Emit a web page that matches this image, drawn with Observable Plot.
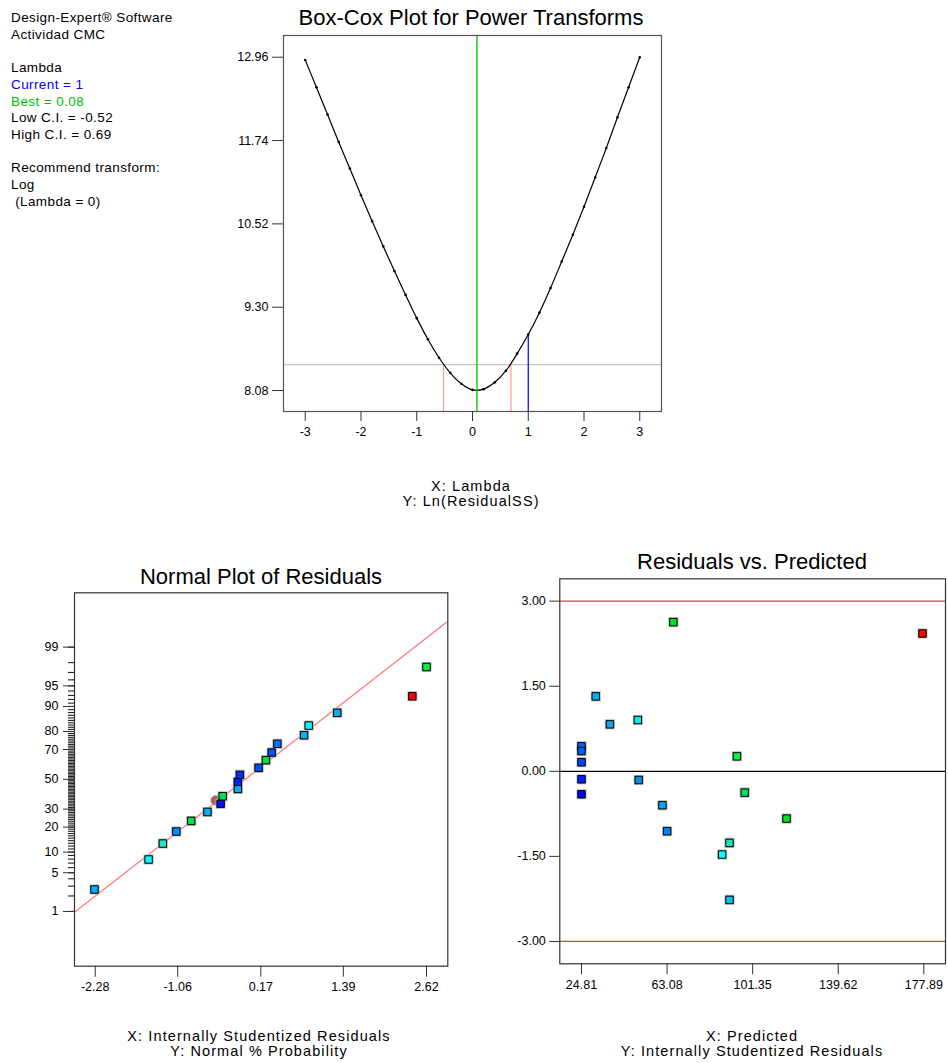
<!DOCTYPE html>
<html><head><meta charset="utf-8">
<script src="https://cdn.jsdelivr.net/npm/d3@7"></script>
<script src="https://cdn.jsdelivr.net/npm/@observablehq/plot@0.6"></script>
<style>
body{margin:0;background:#fff;font-family:"Liberation Sans",Arial,sans-serif;color:#000;}
#root{position:relative;width:948px;height:1063px;overflow:hidden;background:#fff;}
.plot{position:absolute;}
.title{position:absolute;font-size:22px;line-height:22px;white-space:nowrap;transform:translateX(-50%);}
.cap{position:absolute;font-size:14.5px;line-height:15px;text-align:center;white-space:nowrap;transform:translateX(-50%);letter-spacing:1.1px;}
#info{position:absolute;left:11px;top:10px;font-size:13.5px;line-height:16.7px;white-space:pre;letter-spacing:0.4px;}
</style>
</head><body>
<div id="root">
  <div id="info"></div>
  <div class="title" style="left:471px;top:7px">Box-Cox Plot for Power Transforms</div>
  <div class="cap" style="left:471px;top:479px">X: Lambda<br>Y: Ln(ResidualSS)</div>
  <div class="title" style="left:261px;top:566px">Normal Plot of Residuals</div>
  <div class="cap" style="left:259px;top:1029px">X: Internally Studentized Residuals<br>Y: Normal % Probability</div>
  <div class="title" style="left:752px;top:551px">Residuals vs. Predicted</div>
  <div class="cap" style="left:752px;top:1029px">X: Predicted<br>Y: Internally Studentized Residuals</div>
</div>
<script>
// ---------- Header text ----------
const infoLines = [
  ["Design-Expert® Software", "#000"],
  ["Actividad CMC", "#000"],
  ["", "#000"],
  ["Lambda", "#000"],
  ["Current = 1", "#0000ff"],
  ["Best = 0.08", "#00c000"],
  ["Low C.I. = -0.52", "#000"],
  ["High C.I. = 0.69", "#000"],
  ["", "#000"],
  ["Recommend transform:", "#000"],
  ["Log", "#000"],
  [" (Lambda = 0)", "#000"]
];

// ---------- Box-Cox data ----------
const lambdaValues = [-3,-2.8,-2.6,-2.4,-2.2,-2,-1.8,-1.6,-1.4,-1.2,-1,-0.8,-0.6,-0.4,-0.2,0,0.2,0.4,0.6,0.8,1,1.2,1.4,1.6,1.8,2,2.2,2.4,2.6,2.8,3];
const lnResidualSS = [12.92,12.52,12.12,11.72,11.33,10.94,10.56,10.19,9.83,9.48,9.14,8.83,8.56,8.34,8.18,8.09,8.10,8.20,8.37,8.62,8.90,9.22,9.58,9.97,10.36,10.77,11.20,11.63,12.08,12.52,12.96];
const lambdaTicks = [-3,-2,-1,0,1,2,3];
const lnTicks = [8.08,9.30,10.52,11.74,12.96];
const lambdaCurrent = 1;
const lambdaBest = 0.08;
const lambdaCI = [-0.52, 0.69];
const ciLevel = 8.46;
const lnAtCurrent = 8.90;

// ---------- Normal plot data ----------
const normResidual = [-2.29,-1.49,-1.28,-1.08,-0.86,-0.62,-0.425,-0.395,-0.17,-0.17,-0.14,0.137,0.245,0.33,0.414,0.809,0.878,1.30,2.41,2.62];
const normProb = [2.62,7.9,12.9,17.9,23.2,28.3,33.3,38.3,43.3,48.2,53.1,58.0,63.2,68.1,73.4,78.1,82.8,87.9,92.8,97.6];
const normColors = ["#00b0f0","#00ffff","#20e8c0","#0090ff","#00e040","#00b0f0","#0010ff","#00e050","#00b0f0","#0020ff","#0030ff","#0050ff","#00e040","#0050ff","#0070ff","#00b0f0","#00f8f8","#00b0f0","#ff0000","#00f040"];
const circleResidual = [-0.50];
const circleProb = [35.5];
const fitResidual = [-2.586, 2.935];
const fitProb = [0.96, 99.73];
const normXTicks = [-2.28,-1.06,0.17,1.39,2.62];
const probMajor = [1,5,10,20,30,50,70,80,90,95,99];
const probMinor = d3.range(1,100);

// ---------- Residuals vs predicted data ----------
const predicted = [24.81,24.81,24.81,24.81,24.81,31.2,37.5,50.0,50.4,61.0,63.1,65.9,87.7,91.0,91.0,94.3,97.8,116.5,177.3];
const studResidual = [0.44,0.358,0.159,-0.141,-0.405,1.321,0.828,0.904,-0.153,-0.599,-1.057,2.63,-1.468,-1.262,-2.267,0.264,-0.376,-0.834,2.43];
const resColors = ["#0060ff","#0060ff","#0040ff","#0020ff","#0000ff","#00b0f0","#00a8f0","#00f0f0","#0090f0","#00a8f0","#0080ff","#00e020","#00ffff","#20e0c0","#00c0f0","#00f040","#00e060","#00e020","#ff0000"];
const predTicks = [24.81,63.08,101.35,139.62,177.89];
const resTicks = [-3,-1.5,0,1.5,3];
const resLimits = [-3, 3];

// inverse normal CDF (Acklam)
function probit(p){
  const a=[-3.969683028665376e+01,2.209460984245205e+02,-2.759285104469687e+02,1.383577518672690e+02,-3.066479806614716e+01,2.506628277459239e+00];
  const b=[-5.447609879822406e+01,1.615858368580409e+02,-1.556989798598866e+02,6.680131188771972e+01,-1.328068155288572e+01];
  const c=[-7.784894002430293e-03,-3.223964580411365e-01,-2.400758277161838e+00,-2.549732539343734e+00,4.374664141464968e+00,2.938163982698783e+00];
  const d=[7.784695709041462e-03,3.224671290700398e-01,2.445134137142996e+00,3.754408661907416e+00];
  const pl=0.02425, ph=1-pl; let q,r;
  if(p<pl){q=Math.sqrt(-2*Math.log(p));return (((((c[0]*q+c[1])*q+c[2])*q+c[3])*q+c[4])*q+c[5])/((((d[0]*q+d[1])*q+d[2])*q+d[3])*q+1);}
  if(p<=ph){q=p-0.5;r=q*q;return (((((a[0]*r+a[1])*r+a[2])*r+a[3])*r+a[4])*r+a[5])*q/(((((b[0]*r+b[1])*r+b[2])*r+b[3])*r+b[4])*r+1);}
  q=Math.sqrt(-2*Math.log(1-p));return -(((((c[0]*q+c[1])*q+c[2])*q+c[3])*q+c[4])*q+c[5])/((((d[0]*q+d[1])*q+d[2])*q+d[3])*q+1);
}
const z = pct => probit(pct/100);

const info = document.getElementById("info");
infoLines.forEach(([t,c]) => { const div = document.createElement("div"); div.textContent = t || "\u00a0"; div.style.color = c; info.appendChild(div); });

const baseStyle = {fontFamily: "Liberation Sans, Arial, sans-serif", fontSize: "12.5px", background: "transparent", overflow: "visible", color: "#000"};
const root = document.getElementById("root");
function place(svg, left, top){ svg.classList.add("plot"); svg.style.left = left+"px"; svg.style.top = top+"px"; root.appendChild(svg); }

// ---------- Box-Cox ----------
const bcData = lambdaValues.map((l,i) => ({l, v: lnResidualSS[i]}));
const bcY = [7.773, 13.278];
const boxcox = Plot.plot({
  width: 700, height: 445,
  marginLeft: 283, marginRight: 39, marginTop: 35, marginBottom: 34,
  x: {domain: [-3.39, 3.39], label: null},
  y: {domain: bcY, label: null},
  style: baseStyle,
  marks: [
    Plot.ruleY([ciLevel], {stroke: "#c4c4c4", strokeWidth: 1.2}),
    Plot.ruleX(lambdaCI, {x: d => d, y1: () => bcY[0], y2: () => ciLevel, stroke: "#ff9a9a", strokeWidth: 1.2}),
    Plot.ruleX([lambdaCurrent], {x: d => d, y1: () => bcY[0], y2: () => lnAtCurrent, stroke: "#0000ff", strokeWidth: 1.2}),
    Plot.line(bcData, {x: "l", y: "v", curve: "catmull-rom", stroke: "#000", strokeWidth: 1.2}),
    Plot.dot(bcData, {x: "l", y: "v", r: 1.3, fill: "#000", stroke: "none"}),
    Plot.ruleX([lambdaBest], {stroke: "#00c000", strokeWidth: 1.3}),
    Plot.frame({stroke: "#555", strokeWidth: 1.2}),
    Plot.axisX(lambdaTicks, {tickSize: 10, tickPadding: 6, tickFormat: d => String(d), stroke: "#333", label: null}),
    Plot.axisY(lnTicks, {tickSize: 11, tickPadding: 4, tickFormat: d => d.toFixed(2), stroke: "#333", label: null})
  ]
});
place(boxcox, 0, 0);

// ---------- Normal plot ----------
const normData = normResidual.map((r,i) => ({r, p: normProb[i], c: normColors[i]}));
const circData = circleResidual.map((r,i) => ({r, p: circleProb[i]}));
const fitData = fitResidual.map((r,i) => ({r, p: fitProb[i]}));
const majorLabel = new Map(probMajor.map(p => [z(p).toFixed(6), String(p)]));
const normal = Plot.plot({
  width: 470, height: 450,
  marginLeft: 74, marginRight: 22.7, marginTop: 32.3, marginBottom: 44.3,
  x: {domain: [-2.586, 2.935], label: null},
  y: {domain: [-3.29, 3.283], label: null},
  style: baseStyle,
  marks: [
    Plot.line(fitData, {x: "r", y: d => z(d.p), stroke: "#ff8080", strokeWidth: 1.3, clip: true}),
    Plot.dot(circData, {x: "r", y: d => z(d.p), r: 4.6, fill: "#b45a5a", stroke: "#888", strokeWidth: 1}),
    Plot.dot(normData, {x: "r", y: d => z(d.p), symbol: "square", r: 4.2, fill: "none", stroke: "#b8b8b8", strokeWidth: 2.6}),
    Plot.dot(normData, {x: "r", y: d => z(d.p), symbol: "square", r: 4.2, fill: d => d.c, stroke: "#000", strokeWidth: 1}),
    Plot.frame({stroke: "#333", strokeWidth: 1.2}),
    Plot.axisX(normXTicks, {tickSize: 11, tickPadding: 5, tickFormat: d => d.toFixed(2), stroke: "#333", label: null}),
    Plot.axisY(probMinor.map(z), {tickSize: 6, tickFormat: () => "", stroke: "#222", strokeWidth: 1.1, label: null}),
    Plot.axisY(probMajor.map(z), {tickSize: 11, tickPadding: 5, tickFormat: v => majorLabel.get(v.toFixed(6)) || "", stroke: "#333", label: null})
  ]
});
place(normal, 0, 560);

// ---------- Residuals vs predicted ----------
const resData = predicted.map((x,i) => ({x, y: studResidual[i], c: resColors[i]}));
const resid = Plot.plot({
  width: 448, height: 450,
  marginLeft: 59.3, marginRight: 3, marginTop: 18.3, marginBottom: 46.7,
  x: {domain: [15.11, 187.59], label: null},
  y: {domain: [-3.394, 3.394], label: null},
  style: baseStyle,
  marks: [
    Plot.ruleY(resLimits, {stroke: "#f03c3c", strokeWidth: 1.2}),
    Plot.ruleY([0], {stroke: "#000", strokeWidth: 1.2}),
    Plot.dot(resData, {x: "x", y: "y", symbol: "square", r: 4.2, fill: "none", stroke: "#b8b8b8", strokeWidth: 2.6}),
    Plot.dot(resData, {x: "x", y: "y", symbol: "square", r: 4.2, fill: d => d.c, stroke: "#000", strokeWidth: 1}),
    Plot.frame({stroke: "#333", strokeWidth: 1.2}),
    Plot.axisX(predTicks, {tickSize: 11, tickPadding: 5, tickFormat: d => d.toFixed(2), stroke: "#333", label: null}),
    Plot.axisY(resTicks, {tickSize: 10, tickPadding: 4, tickFormat: d => d.toFixed(2), stroke: "#333", label: null})
  ]
});
place(resid, 500, 560);
</script>
</body></html>
